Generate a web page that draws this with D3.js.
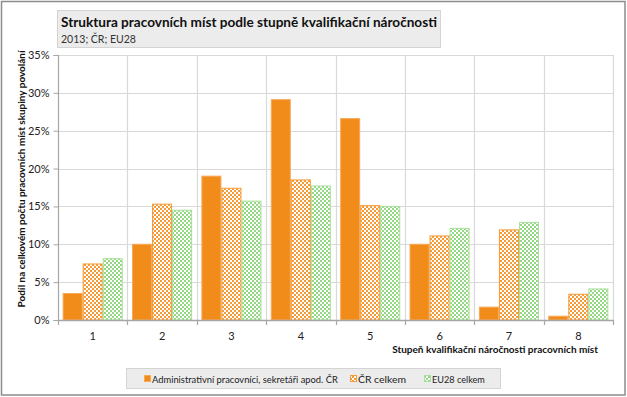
<!DOCTYPE html>
<html><head><meta charset="utf-8">
<script src="https://cdn.jsdelivr.net/npm/d3@7"></script>
<style>body{margin:0;background:#fff}svg{display:block}text{font-family:Lato,"Open Sans",sans-serif}</style>
</head><body><svg id="c" width="627" height="397"></svg>
<script>
const categories = ["1","2","3","4","5","6","7","8"];
const seriesNames = ["Administrativní pracovníci, sekretáři apod. ČR","ČR celkem","EU28 celkem"];
const adminValues = [3.5,10.0,19.0,29.1,26.6,10.0,1.7,0.5];
const crValues = [7.4,15.3,17.4,18.5,15.1,11.1,11.9,3.4];
const euValues = [8.1,14.5,15.7,17.7,15.0,12.1,12.9,4.1];
const yTicks = [0,5,10,15,20,25,30,35];
const title = "Struktura pracovních míst podle stupně kvalifikační náročnosti";
const subtitle = "2013; ČR; EU28";
const yTitle = "Podíl na celkovém počtu pracovních míst skupiny povolání";
const xTitle = "Stupeň kvalifikační náročnosti pracovních míst";

const svg = d3.select("#c");
const defs = svg.append("defs");
function checker(id, c1, c2){
  const p = defs.append("pattern").attr("id",id).attr("width",4).attr("height",4).attr("patternUnits","userSpaceOnUse");
  p.append("rect").attr("width",4).attr("height",4).attr("fill",c2);
  p.append("rect").attr("width",2).attr("height",2).attr("fill",c1);
  p.append("rect").attr("x",2).attr("y",2).attr("width",2).attr("height",2).attr("fill",c1);
}
checker("pOr","#f59a36","#ffffff");
checker("pGr","#93d883","#ffffff");
// fit font size so the natural width matches target width
function fit(sel, w, base){
  sel.attr("font-size",base);
  const L = sel.node().getComputedTextLength();
  sel.attr("font-size", (base*w/L).toFixed(2));
  return sel;
}

// outer border
svg.append("rect").attr("x",1.5).attr("y",1.5).attr("width",623.5).attr("height",393.5).attr("fill","#fff").attr("stroke","#8c8c8c").attr("stroke-width",1.5);

const m = {l:58, r:613, t:55, b:320};
const x = d3.scaleBand().domain(categories).range([m.l,m.r]).paddingInner(0).paddingOuter(0);
const y = d3.scaleLinear().domain([0,35]).range([m.b,m.t]);
const x1 = d3.scaleBand().domain([0,1,2]).range([0,x.bandwidth()]).paddingOuter(0.232).paddingInner(0);

// gridlines
svg.append("g").selectAll("line").data(yTicks.slice(1)).join("line")
  .attr("x1",m.l).attr("x2",m.r).attr("y1",d=>Math.round(y(d))+0.5).attr("y2",d=>Math.round(y(d))+0.5)
  .attr("stroke","#d9d9d9").attr("stroke-width",1.2);
svg.append("g").selectAll("line").data(categories.slice(1).concat(["end"])).join("line")
  .attr("x1",d=>Math.round(d==="end"?m.r:x(d))+0.5).attr("x2",d=>Math.round(d==="end"?m.r:x(d))+0.5)
  .attr("y1",m.t).attr("y2",m.b).attr("stroke","#d9d9d9").attr("stroke-width",1.2);

// bars
const data = [adminValues, crValues, euValues];
const fills = ["#f18b1a","url(#pOr)","url(#pGr)"];
const strokes = ["#f6a957","#f59a36","#a9e09b"];
data.forEach((vals,si)=>{
  svg.append("g").selectAll("rect").data(vals).join("rect")
    .attr("x",(d,i)=>x(categories[i])+x1(si)+0.5)
    .attr("y",d=>y(d))
    .attr("width",x1.bandwidth()-1)
    .attr("height",d=>y(0)-y(d))
    .attr("fill",fills[si]).attr("stroke",strokes[si]).attr("stroke-width",1);
});

// y axis
const ya = svg.append("g").attr("transform",`translate(${m.l+0.5},0)`)
  .call(d3.axisLeft(y).tickValues(yTicks).tickFormat(d=>d+"%").tickSize(5).tickPadding(4));
ya.select(".domain").attr("stroke","#a6a6a6").attr("stroke-width",1.2).attr("d",`M-5,${m.t+0.5}H0V${m.b+0.5}H-5`);
ya.selectAll(".tick line").attr("stroke","#a6a6a6");
ya.selectAll(".tick text").attr("font-family","Lato,sans-serif").attr("font-size",11).attr("fill","#222");

// x axis
const xa = svg.append("g").attr("transform",`translate(0,${m.b+0.5})`)
  .call(d3.axisBottom(x).tickSize(0).tickPadding(12));
xa.select(".domain").attr("stroke","#a6a6a6").attr("stroke-width",1.5).attr("d",`M${m.l},0H${m.r}`);
xa.selectAll(".tick text").attr("font-family","Lato,sans-serif").attr("font-size",11).attr("fill","#222");
svg.append("g").selectAll("line").data(categories.concat(["end"])).join("line")
  .attr("x1",d=>Math.round(d==="end"?m.r:x(d))+0.5).attr("x2",d=>Math.round(d==="end"?m.r:x(d))+0.5)
  .attr("y1",m.b).attr("y2",m.b+5).attr("stroke","#a6a6a6").attr("stroke-width",1.2);

// axis titles
fit(svg.append("text").attr("x",598).attr("y",353).attr("text-anchor","end").attr("font-weight","bold")
  .attr("fill","#111").text(xTitle), 206, 11);
fit(svg.append("text").attr("transform","translate(25,179) rotate(-90)").attr("text-anchor","middle").attr("font-weight","bold")
  .attr("fill","#111").text(yTitle), 257, 11);

// title box
svg.append("rect").attr("x",57.5).attr("y",10.5).attr("width",383).attr("height",37).attr("fill","#ececec").attr("stroke","#d4d4d4");
fit(svg.append("text").attr("x",61).attr("y",27).attr("font-weight","bold").attr("fill","#111").text(title), 376, 14);
fit(svg.append("text").attr("x",61).attr("y",42.5).attr("fill","#333").text(subtitle), 75, 11.5);

// legend
svg.append("rect").attr("x",126.5).attr("y",368.5).attr("width",374).attr("height",20).attr("fill","#ececec").attr("stroke","#d4d4d4");
const legX = [144,350,424], legTX=[152,358,432], legW=[186,48,53];
seriesNames.forEach((n,i)=>{
  svg.append("rect").attr("x",legX[i]+0.5).attr("y",375.5).attr("width",6).attr("height",6).attr("fill",fills[i]).attr("stroke",strokes[i]);
  fit(svg.append("text").attr("x",legTX[i]).attr("y",382.5).attr("fill","#222").text(n), legW[i], 11);
});
</script></body></html>
